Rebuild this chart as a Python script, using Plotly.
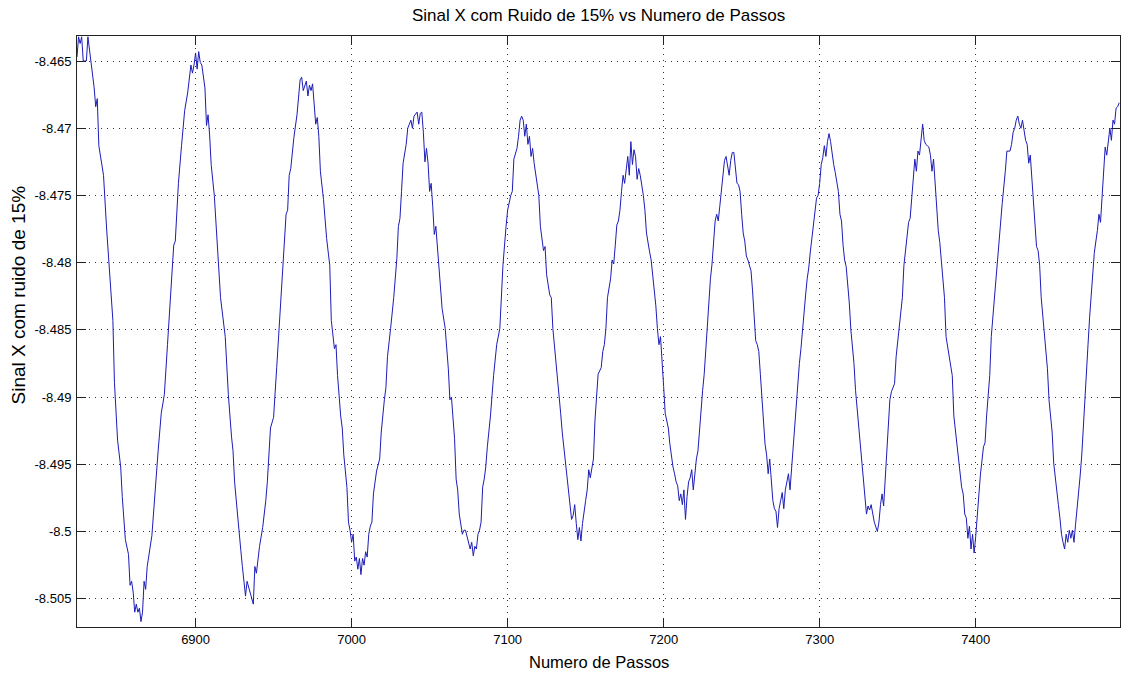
import plotly.graph_objects as go

# Sinal X com ruído: passo e valor lidos ciclo a ciclo
trecho_1 = [
    (6824, -8.4647), (6825, -8.4632), (6826, -8.4637), (6827, -8.4632), (6828, -8.4650),
    (6830, -8.4650), (6831, -8.4632), (6832, -8.4641), (6833, -8.4651), (6834, -8.4659),
    (6835, -8.4670), (6836, -8.4684), (6837, -8.4678), (6838, -8.4713), (6841, -8.4735),
    (6843, -8.4775), (6845, -8.4806), (6847, -8.4843), (6848, -8.4889), (6850, -8.4932),
    (6852, -8.4952), (6853, -8.4974), (6855, -8.5006), (6857, -8.5017), (6858, -8.5040),
    (6859, -8.5037), (6860, -8.5045), (6861, -8.5060), (6862, -8.5054), (6863, -8.5060),
    (6864, -8.5057), (6865, -8.5067), (6866, -8.5060), (6867, -8.5037), (6868, -8.5043),
    (6869, -8.5026), (6872, -8.5003), (6874, -8.4969), (6876, -8.4940), (6878, -8.4912),
    (6880, -8.4898), (6882, -8.4861), (6884, -8.4826), (6886, -8.4787), (6887, -8.4784),
    (6889, -8.4741), (6891, -8.4713), (6893, -8.4687), (6895, -8.4673), (6897, -8.4653),
    (6898, -8.4659), (6899, -8.4653), (6900, -8.4644), (6901, -8.4656), (6902, -8.4643),
    (6903, -8.4651), (6904, -8.4653), (6906, -8.4670), (6907, -8.4698), (6908, -8.4690),
    (6909, -8.4705), (6910, -8.4727), (6912, -8.4750), (6914, -8.4792), (6916, -8.4826),
    (6919, -8.4855), (6921, -8.4898), (6923, -8.4929), (6924, -8.4940), (6925, -8.4963),
    (6927, -8.4991), (6929, -8.5014), (6930, -8.5026), (6932, -8.5048), (6933, -8.5037),
    (6935, -8.5045), (6936, -8.5051), (6937, -8.5054), (6938, -8.5026), (6939, -8.5031),
    (6941, -8.5011), (6943, -8.4997), (6945, -8.4977), (6946, -8.4963), (6948, -8.4923),
    (6950, -8.4915), (6952, -8.4878), (6954, -8.4841), (6956, -8.4798), (6958, -8.4764),
    (6959, -8.4761), (6960, -8.4735), (6961, -8.4730), (6963, -8.4707), (6965, -8.4690),
    (6967, -8.4664),
]

trecho_2 = [
    (6968, -8.4662), (6969, -8.4672), (6971, -8.4665), (6972, -8.4676), (6973, -8.4668),
    (6974, -8.4672), (6975, -8.4667), (6976, -8.4685), (6977, -8.4697), (6978, -8.4692),
    (6979, -8.4706), (6980, -8.4732), (6982, -8.4753), (6984, -8.4782), (6986, -8.4802),
    (6987, -8.4843), (6988, -8.4852), (6989, -8.4864), (6990, -8.4861), (6991, -8.4884),
    (6993, -8.4914), (6994, -8.4923), (6995, -8.4943), (6997, -8.4967), (6998, -8.4993),
    (6999, -8.4999), (7000, -8.5008), (7001, -8.5002), (7002, -8.5022), (7003, -8.5019),
    (7004, -8.5028), (7005, -8.5020), (7006, -8.5032), (7007, -8.5020), (7008, -8.5025),
    (7009, -8.5015), (7010, -8.5019), (7011, -8.5002), (7012, -8.4996), (7013, -8.4993),
    (7014, -8.4972), (7016, -8.4955), (7018, -8.4946), (7019, -8.4926), (7021, -8.4902),
    (7022, -8.4893), (7023, -8.4870), (7024, -8.4861), (7025, -8.4849), (7027, -8.4826),
    (7029, -8.4797), (7030, -8.4773), (7031, -8.4767), (7032, -8.4747), (7033, -8.4726),
    (7035, -8.4712), (7036, -8.4700), (7037, -8.4697), (7038, -8.4694), (7039, -8.4700),
    (7040, -8.4691),
]

trecho_3 = [
    (7042, -8.4688), (7043, -8.4697), (7044, -8.4689), (7045, -8.4688), (7046, -8.4703),
    (7047, -8.4725), (7048, -8.4715), (7049, -8.4726), (7050, -8.4747), (7051, -8.4741),
    (7052, -8.4758), (7053, -8.4779), (7054, -8.4773), (7056, -8.4802), (7058, -8.4834),
    (7060, -8.4849), (7062, -8.4879), (7063, -8.4902), (7064, -8.4900), (7066, -8.4931),
    (7067, -8.4961), (7068, -8.4969), (7069, -8.4987), (7071, -8.5002), (7072, -8.4999),
    (7073, -8.4999), (7075, -8.5008), (7076, -8.5013), (7077, -8.5008), (7078, -8.5018),
    (7079, -8.5011), (7080, -8.5013), (7081, -8.5002), (7082, -8.4999), (7083, -8.4993),
    (7084, -8.4967), (7085, -8.4961), (7086, -8.4952), (7087, -8.4937), (7089, -8.4914),
    (7091, -8.4884), (7093, -8.4861), (7095, -8.4849), (7096, -8.4826), (7097, -8.4802),
    (7099, -8.4773), (7100, -8.4761), (7102, -8.4750), (7103, -8.4747), (7104, -8.4723),
    (7106, -8.4715), (7107, -8.4706), (7108, -8.4694),
]

trecho_4 = [
    (7109, -8.4691), (7110, -8.4694), (7111, -8.4706), (7112, -8.4697), (7113, -8.4712),
    (7114, -8.4706), (7115, -8.4721), (7116, -8.4715), (7117, -8.4726), (7119, -8.4744),
    (7120, -8.4750), (7121, -8.4773), (7122, -8.4781), (7123, -8.4791), (7124, -8.4788),
    (7125, -8.4809), (7127, -8.4824), (7128, -8.4826), (7129, -8.4849), (7130, -8.4861),
    (7131, -8.4875), (7132, -8.4883), (7133, -8.4900), (7134, -8.4912), (7135, -8.4926),
    (7136, -8.4937), (7137, -8.4949), (7138, -8.4960), (7139, -8.4969), (7140, -8.4983),
    (7141, -8.4991), (7142, -8.4988), (7143, -8.4980), (7144, -8.4994), (7145, -8.5006),
    (7146, -8.4997), (7147, -8.5007), (7148, -8.4994), (7149, -8.4983), (7150, -8.4977),
    (7151, -8.4969), (7152, -8.4954), (7153, -8.4960), (7154, -8.4952), (7155, -8.4946),
    (7156, -8.4917), (7157, -8.4898), (7158, -8.4883), (7160, -8.4878), (7161, -8.4866),
    (7162, -8.4861), (7163, -8.4849), (7164, -8.4826), (7166, -8.4812), (7167, -8.4798),
    (7168, -8.4801), (7169, -8.4787), (7170, -8.4772), (7171, -8.4769), (7172, -8.4761),
    (7173, -8.4747), (7174, -8.4735), (7175, -8.4741), (7176, -8.4730), (7177, -8.4721),
    (7178, -8.4735),
]

trecho_5 = [
    (7179, -8.4710), (7180, -8.4727), (7181, -8.4716), (7182, -8.4721), (7183, -8.4738),
    (7184, -8.4730), (7185, -8.4735), (7187, -8.4750), (7188, -8.4761), (7189, -8.4778),
    (7190, -8.4787), (7191, -8.4792), (7192, -8.4798), (7193, -8.4809), (7194, -8.4821),
    (7195, -8.4832), (7196, -8.4849), (7197, -8.4861), (7198, -8.4855), (7199, -8.4878),
    (7200, -8.4892), (7201, -8.4912), (7202, -8.4917), (7203, -8.4923), (7204, -8.4935),
    (7205, -8.4946), (7206, -8.4952), (7207, -8.4957), (7208, -8.4963), (7209, -8.4966),
    (7210, -8.4977), (7211, -8.4972), (7212, -8.4980), (7213, -8.4969), (7214, -8.4991),
    (7215, -8.4974), (7216, -8.4963), (7217, -8.4960), (7218, -8.4954), (7219, -8.4969),
    (7220, -8.4954), (7221, -8.4946), (7222, -8.4940), (7223, -8.4923), (7224, -8.4912),
    (7225, -8.4895), (7226, -8.4883), (7227, -8.4863), (7228, -8.4849), (7229, -8.4826),
    (7230, -8.4812), (7231, -8.4801), (7232, -8.4787), (7233, -8.4769), (7234, -8.4764),
    (7235, -8.4769), (7236, -8.4758), (7237, -8.4747), (7238, -8.4733), (7239, -8.4724),
    (7240, -8.4721), (7241, -8.4730), (7242, -8.4735), (7243, -8.4724),
]

trecho_6 = [
    (7244, -8.4718), (7245, -8.4718), (7246, -8.4730), (7247, -8.4741), (7248, -8.4742),
    (7249, -8.4747), (7250, -8.4764), (7251, -8.4778), (7252, -8.4784), (7253, -8.4795),
    (7254, -8.4798), (7256, -8.4806), (7257, -8.4821), (7258, -8.4838), (7259, -8.4858),
    (7260, -8.4861), (7261, -8.4866), (7262, -8.4883), (7263, -8.4900), (7264, -8.4915),
    (7265, -8.4935), (7266, -8.4943), (7267, -8.4957), (7268, -8.4946), (7269, -8.4966),
    (7270, -8.4977), (7271, -8.4983), (7272, -8.4985), (7273, -8.4997), (7274, -8.4983),
    (7275, -8.4977), (7276, -8.4971), (7277, -8.4983), (7278, -8.4969), (7279, -8.4963),
    (7280, -8.4957), (7281, -8.4969), (7282, -8.4952), (7283, -8.4935), (7284, -8.4925),
    (7285, -8.4909), (7286, -8.4892), (7287, -8.4875), (7288, -8.4864), (7289, -8.4849),
    (7290, -8.4832), (7291, -8.4824), (7292, -8.4812), (7293, -8.4804), (7294, -8.4792),
    (7295, -8.4781), (7296, -8.4769), (7297, -8.4761), (7298, -8.4752), (7299, -8.4750),
    (7300, -8.4741), (7301, -8.4727), (7302, -8.4722), (7303, -8.4713), (7304, -8.4721),
    (7305, -8.4710),
]

trecho_7 = [
    (7306, -8.4704), (7307, -8.4710), (7308, -8.4721), (7309, -8.4727), (7310, -8.4733),
    (7311, -8.4741), (7312, -8.4747), (7313, -8.4764), (7314, -8.4769), (7315, -8.4787),
    (7316, -8.4798), (7317, -8.4803), (7318, -8.4815), (7319, -8.4830), (7320, -8.4850),
    (7321, -8.4862), (7322, -8.4875), (7323, -8.4895), (7324, -8.4908), (7325, -8.4926),
    (7326, -8.4934), (7327, -8.4952), (7328, -8.4961), (7329, -8.4972), (7330, -8.4987),
    (7331, -8.4981), (7332, -8.4984), (7333, -8.4980), (7334, -8.4987), (7335, -8.4993),
    (7337, -8.5000), (7338, -8.4993), (7339, -8.4980), (7340, -8.4972), (7341, -8.4981),
    (7342, -8.4960), (7343, -8.4945), (7344, -8.4928), (7345, -8.4902), (7346, -8.4896),
    (7348, -8.4890), (7349, -8.4870), (7351, -8.4849), (7353, -8.4826), (7354, -8.4802),
    (7356, -8.4779), (7357, -8.4770), (7358, -8.4767), (7359, -8.4753), (7360, -8.4738),
    (7361, -8.4723), (7362, -8.4732), (7363, -8.4717), (7364, -8.4720), (7365, -8.4706),
]

trecho_8 = [
    (7366, -8.4697), (7367, -8.4709), (7368, -8.4712), (7369, -8.4713), (7370, -8.4714),
    (7371, -8.4720), (7372, -8.4732), (7373, -8.4723), (7374, -8.4741), (7375, -8.4756),
    (7376, -8.4776), (7377, -8.4785), (7378, -8.4797), (7380, -8.4826), (7381, -8.4855),
    (7383, -8.4870), (7385, -8.4884), (7386, -8.4914), (7388, -8.4937), (7390, -8.4961),
    (7391, -8.4967), (7392, -8.4972), (7393, -8.4987), (7394, -8.4990), (7395, -8.5005),
    (7396, -8.4996), (7397, -8.5013), (7398, -8.5002), (7399, -8.5016), (7400, -8.5004),
    (7401, -8.4990), (7402, -8.4978), (7403, -8.4958), (7405, -8.4937), (7406, -8.4934),
    (7407, -8.4914), (7409, -8.4884), (7410, -8.4855), (7412, -8.4826), (7414, -8.4802),
    (7415, -8.4785), (7416, -8.4770), (7417, -8.4756), (7419, -8.4732), (7420, -8.4717),
    (7422, -8.4717), (7423, -8.4712), (7424, -8.4703), (7425, -8.4700), (7426, -8.4694),
]

trecho_9 = [
    (7427, -8.4691), (7428, -8.4697), (7429, -8.4700), (7430, -8.4694), (7431, -8.4703),
    (7432, -8.4709), (7433, -8.4712), (7434, -8.4726), (7435, -8.4720), (7436, -8.4738),
    (7437, -8.4750), (7438, -8.4773), (7439, -8.4788), (7440, -8.4791), (7441, -8.4802),
    (7442, -8.4826), (7444, -8.4855), (7446, -8.4879), (7447, -8.4902), (7449, -8.4926),
    (7450, -8.4949), (7451, -8.4961), (7452, -8.4972), (7453, -8.4980), (7454, -8.4990),
    (7455, -8.5002), (7456, -8.5008), (7457, -8.5013), (7458, -8.5002), (7459, -8.5008),
    (7460, -8.4999), (7461, -8.5005), (7462, -8.4999), (7463, -8.5008), (7464, -8.4995),
    (7465, -8.4984), (7466, -8.4972), (7467, -8.4958), (7468, -8.4943), (7469, -8.4920),
    (7470, -8.4896), (7471, -8.4879), (7472, -8.4861), (7473, -8.4841), (7474, -8.4823),
    (7475, -8.4804), (7476, -8.4793), (7478, -8.4776), (7479, -8.4764), (7480, -8.4770),
    (7481, -8.4750), (7482, -8.4732), (7483, -8.4714), (7484, -8.4720), (7485, -8.4709),
    (7486, -8.4700), (7487, -8.4709), (7488, -8.4694), (7489, -8.4697), (7490, -8.4685),
    (7491, -8.4684), (7492, -8.4681),
]

trechos = [trecho_1, trecho_2, trecho_3, trecho_4, trecho_5,
           trecho_6, trecho_7, trecho_8, trecho_9]
passos = [p for t in trechos for p, _ in t]
sinal_x = [v for t in trechos for _, v in t]

# Eixos
x_ticks = [6900, 7000, 7100, 7200, 7300, 7400]
x_labels = ["6900", "7000", "7100", "7200", "7300", "7400"]
y_ticks = [-8.505, -8.5, -8.495, -8.49, -8.485, -8.48, -8.475, -8.47, -8.465]
y_labels = ["-8.505", "-8.5", "-8.495", "-8.49", "-8.485", "-8.48", "-8.475", "-8.47", "-8.465"]
x_limites = [6824, 7492.5]
y_limites = [-8.50710, -8.46314]

FONTE = "Liberation Sans, Arial, Helvetica, sans-serif"

fig = go.Figure()
fig.add_trace(go.Scatter(
    x=passos, y=sinal_x, mode="lines",
    line=dict(color="#1c1cb8", width=1),
    showlegend=False, hoverinfo="skip",
))

eixo_comum = dict(
    showline=True, linecolor="#222222", linewidth=1, mirror="allticks",
    ticks="inside", ticklen=9, tickwidth=1, tickcolor="#222222",
    showgrid=True, gridcolor="#333333", gridwidth=1, griddash="1px,5px",
    zeroline=False, tickfont=dict(family=FONTE, size=13, color="#000000"),
)

fig.update_layout(
    width=1121, height=675,
    margin=dict(l=77, r=1, t=36, b=48),
    paper_bgcolor="#ffffff", plot_bgcolor="#ffffff",
    xaxis=dict(range=x_limites, tickmode="array", tickvals=x_ticks, ticktext=x_labels,
               ticklabelstandoff=0, **eixo_comum),
    yaxis=dict(range=y_limites, tickmode="array", tickvals=y_ticks, ticktext=y_labels,
               ticklabelstandoff=2, **eixo_comum),
    annotations=[
        dict(text="Sinal X com Ruido de 15% vs Numero de Passos", xref="paper", yref="paper",
             x=0.5, y=1 + 20 / 591, xanchor="center", yanchor="middle", showarrow=False,
             font=dict(family=FONTE, size=17, color="#000000")),
        dict(text="Numero de Passos", xref="paper", yref="paper",
             x=0.5, y=-35 / 591, xanchor="center", yanchor="middle", showarrow=False,
             font=dict(family=FONTE, size=16.5, color="#000000")),
        dict(text="Sinal X com ruido de 15%", xref="paper", yref="paper",
             x=-59 / 1043, y=(627 - 295.5) / 591, xanchor="center", yanchor="middle",
             showarrow=False, textangle=-90,
             font=dict(family=FONTE, size=19, color="#000000")),
    ],
)

fig.write_html("out.html")
